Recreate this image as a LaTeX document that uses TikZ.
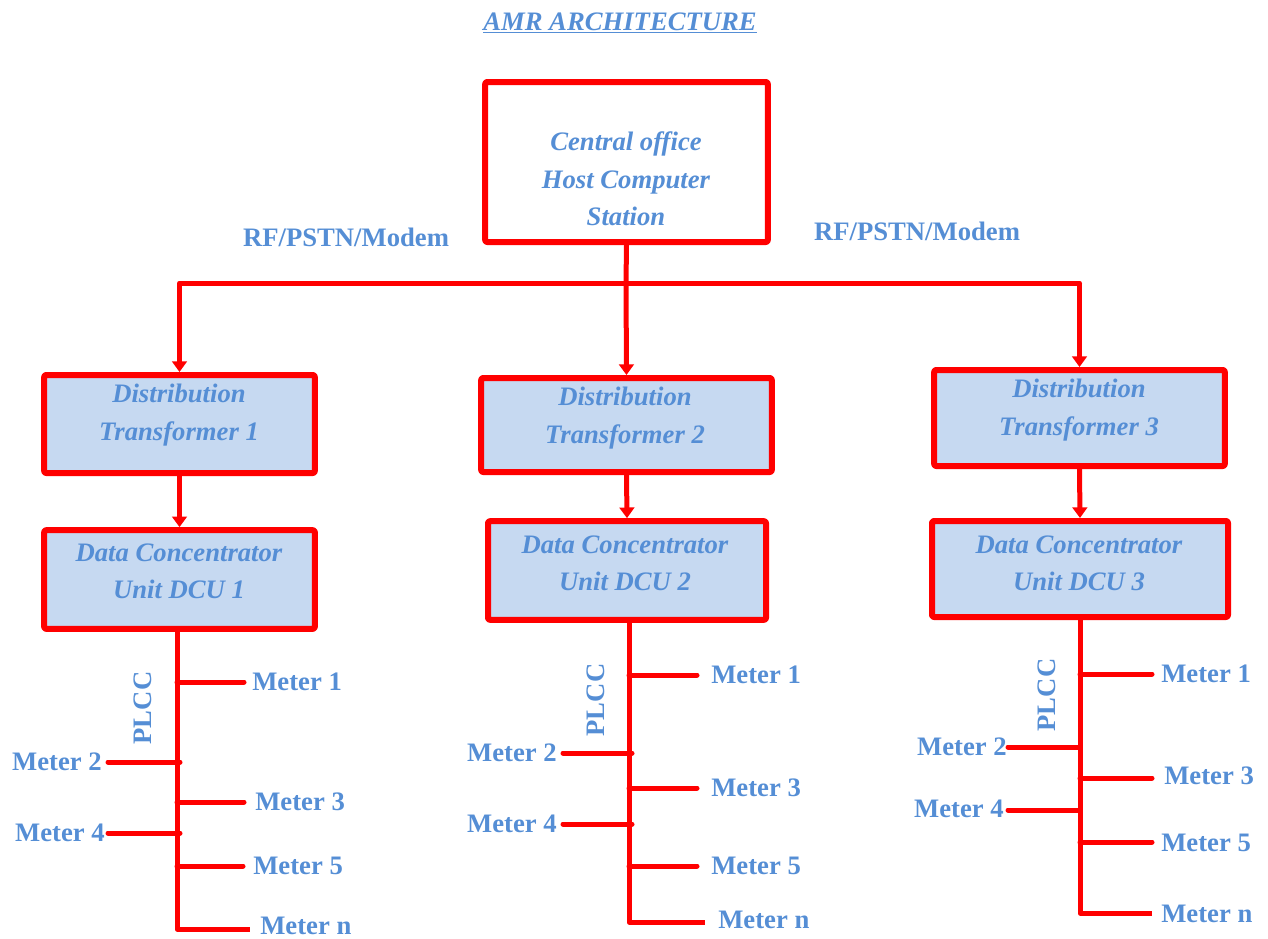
\documentclass[tikz,border=0pt]{standalone}
\usepackage{fontspec}
\setmainfont{Liberation Serif}
\usetikzlibrary{arrows.meta}
\definecolor{txtblue}{HTML}{558ED5}
\definecolor{boxfill}{HTML}{C6D9F1}
\definecolor{linered}{HTML}{FF0000}
\tikzset{
  cbox/.style={draw=linered, line width=4.5pt, rounded corners=1.5pt, line join=round, inner sep=0pt},
  boxtext/.style={text=txtblue, font=\fontsize{20}{28}\selectfont\bfseries\itshape, align=center, inner sep=0pt},
  mlabel/.style={text=txtblue, font=\fontsize{20}{24}\selectfont\bfseries, inner sep=0pt},
  wire/.style={draw=linered, line width=3.75pt, line cap=round, line join=round},
  feed/.style={wire, -{Triangle[width=11pt,length=8pt]}, line cap=butt},
}
\begin{document}
\begin{tikzpicture}[x=0.75pt,y=-0.75pt]
\useasboundingbox (0,0) rectangle (1268,939);

% title
\node[boxtext, anchor=base] (title) at (620,30) {\underline{AMR ARCHITECTURE}};

% boxes
\node[cbox, fill=white, minimum width=212pt, minimum height=120pt] (central) at (626.5,162) {};
\node[boxtext] (centralt) at (626,179) {Central office\\Host Computer\\Station};

\node[cbox, fill=boxfill, minimum width=203pt, minimum height=73.5pt] (dt1) at (179.5,424) {};
\node[boxtext] (dt1t) at (179,415) {Distribution\\Transformer 1};
\node[cbox, fill=boxfill, minimum width=218pt, minimum height=70.5pt] (dt2) at (626.5,425) {};
\node[boxtext] (dt2t) at (625,418) {Distribution\\Transformer 2};
\node[cbox, fill=boxfill, minimum width=218pt, minimum height=72pt] (dt3) at (1079.5,418) {};
\node[boxtext] (dt3t) at (1079,410) {Distribution\\Transformer 3};

\node[cbox, fill=boxfill, minimum width=203pt, minimum height=74pt] (dcu1) at (179.5,579.5) {};
\node[boxtext] (dcu1t) at (179,571) {Data Concentrator\\Unit DCU 1};
\node[cbox, fill=boxfill, minimum width=208.5pt, minimum height=74pt] (dcu2) at (627,570.5) {};
\node[boxtext] (dcu2t) at (625,563) {Data Concentrator\\Unit DCU 2};
\node[cbox, fill=boxfill, minimum width=222pt, minimum height=72pt] (dcu3) at (1080,569) {};
\node[boxtext] (dcu3t) at (1079,563) {Data Concentrator\\Unit DCU 3};

% RF labels
\node[mlabel] (rfl) at (346,237) {RF/PSTN/Modem};
\node[mlabel] (rfr) at (917,231) {RF/PSTN/Modem};

% main distribution
\coordinate (jc) at (626,283);
\coordinate (jl) at (dt1.north |- jc);
\coordinate (jr) at (dt3.north |- jc);
\draw[wire] (central.south) -- (jc);
\draw[wire] (jl) -- (jr);
\draw[feed] (jl) -- (dt1.north);
\draw[feed] (jc) -- (dt2.north);
\draw[feed] (jr) -- (dt3.north);

\draw[feed] (dt1.south) -- (dcu1.north);
\draw[feed] (dt2.south) -- (dcu2.north);
\draw[feed] (dt3.south) -- (dcu3.north);

% ---------- bus 1 ----------
\coordinate (b1top) at (177,629);
\coordinate (b1m1) at (177,682);
\coordinate (b1m2) at (180,762);
\coordinate (b1m3) at (177,802);
\coordinate (b1m4) at (180,833);
\coordinate (b1m5) at (177,866);
\coordinate (b1mn) at (177,929);
\coordinate (e1m1) at (244,682);
\coordinate (e1m2) at (108,762);
\coordinate (e1m3) at (244,802);
\coordinate (e1m4) at (108,833);
\coordinate (e1m5) at (243,866);
\coordinate (e1mn) at (250,929);
\node[mlabel, anchor=west] (l1m1) at (252,682) {Meter 1};
\node[mlabel, anchor=east] (l1m2) at (102,762) {Meter 2};
\node[mlabel, anchor=west] (l1m3) at (255,802) {Meter 3};
\node[mlabel, anchor=east] (l1m4) at (105,833) {Meter 4};
\node[mlabel, anchor=west] (l1m5) at (253,866) {Meter 5};
\node[mlabel, anchor=west] (l1mn) at (260,926) {Meter n};
\node[mlabel, rotate=90] (plcc1) at (143,708) {PLCC};
\draw[wire, line cap=butt] (b1top) -- (b1mn) -- (e1mn);
\foreach \i in {m1,m2,m3,m4,m5}{\draw[wire] (b1\i) -- (e1\i);}

% ---------- bus 2 ----------
\coordinate (b2top) at (629,620);
\coordinate (b2m1) at (629,675);
\coordinate (b2m2) at (632,753);
\coordinate (b2m3) at (629,788);
\coordinate (b2m4) at (632,824);
\coordinate (b2m5) at (629,866);
\coordinate (b2mn) at (629,922);
\coordinate (e2m1) at (697,675);
\coordinate (e2m2) at (563,753);
\coordinate (e2m3) at (697,788);
\coordinate (e2m4) at (563,824);
\coordinate (e2m5) at (697,866);
\coordinate (e2mn) at (705,922);
\node[mlabel, anchor=west] (l2m1) at (711,675) {Meter 1};
\node[mlabel, anchor=east] (l2m2) at (557,753) {Meter 2};
\node[mlabel, anchor=west] (l2m3) at (711,788) {Meter 3};
\node[mlabel, anchor=east] (l2m4) at (557,824) {Meter 4};
\node[mlabel, anchor=west] (l2m5) at (711,866) {Meter 5};
\node[mlabel, anchor=west] (l2mn) at (718,920) {Meter n};
\node[mlabel, rotate=90] (plcc2) at (596,700) {PLCC};
\draw[wire, line cap=butt] (b2top) -- (b2mn) -- (e2mn);
\foreach \i in {m1,m2,m3,m4,m5}{\draw[wire] (b2\i) -- (e2\i);}

% ---------- bus 3 ----------
\coordinate (b3top) at (1080,617);
\coordinate (b3m1) at (1080,674);
\coordinate (b3m2) at (1080,747);
\coordinate (b3m3) at (1080,778);
\coordinate (b3m4) at (1080,810);
\coordinate (b3m5) at (1080,842);
\coordinate (b3mn) at (1080,913);
\coordinate (e3m1) at (1152,674);
\coordinate (e3m2) at (1008,747);
\coordinate (e3m3) at (1152,778);
\coordinate (e3m4) at (1008,810);
\coordinate (e3m5) at (1152,842);
\coordinate (e3mn) at (1152,913);
\node[mlabel, anchor=west] (l3m1) at (1161,674) {Meter 1};
\node[mlabel, anchor=east] (l3m2) at (1007,747) {Meter 2};
\node[mlabel, anchor=west] (l3m3) at (1164,776) {Meter 3};
\node[mlabel, anchor=east] (l3m4) at (1004,809) {Meter 4};
\node[mlabel, anchor=west] (l3m5) at (1161,843) {Meter 5};
\node[mlabel, anchor=west] (l3mn) at (1161,914) {Meter n};
\node[mlabel, rotate=90] (plcc3) at (1047,695) {PLCC};
\draw[wire, line cap=butt] (b3top) -- (b3mn) -- (e3mn);
\foreach \i in {m1,m2,m3,m4,m5}{\draw[wire] (b3\i) -- (e3\i);}
\end{tikzpicture}
\end{document}
